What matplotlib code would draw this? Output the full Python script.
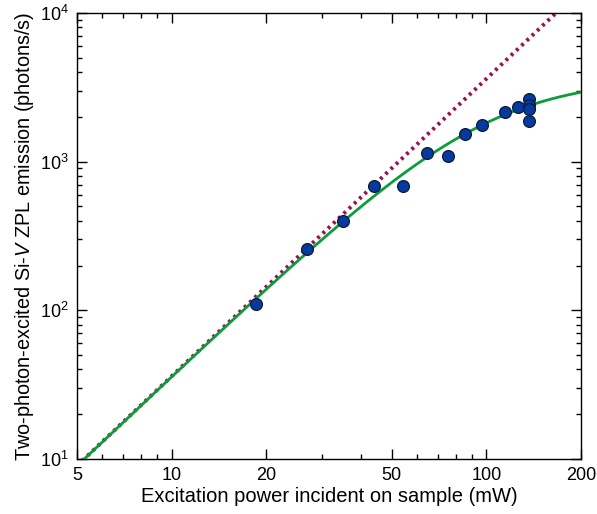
import numpy as np
import matplotlib
matplotlib.use("Agg")
import matplotlib.pyplot as plt
from matplotlib.ticker import FixedLocator, NullFormatter, LogLocator

plt.rcParams['font.family'] = ['Liberation Sans', 'DejaVu Sans']
plt.rcParams['mathtext.fontset'] = 'custom'
plt.rcParams['mathtext.rm'] = 'Liberation Sans'
plt.rcParams['mathtext.it'] = 'Liberation Sans:italic'

# Data (mW, photons/s)
power = [18.5, 26.9, 35.0, 44.0, 54.3, 64.6, 75.4, 85.8, 96.9, 114.7, 125.8,
         136.7, 136.7, 136.7, 136.7]
counts = [110, 259, 399, 687, 681, 1144, 1097, 1543, 1774, 2169, 2344,
          2630, 2405, 2262, 1886]

# Fit parameters: I = A P^2 / (1 + (P/Psat)^2)
A_coef = 0.3607
P_sat = 101.0

x_ticks = [5, 10, 20, 50, 100, 200]
x_ticklabels = ['5', '10', '20', '50', '100', '200']

fig = plt.figure(figsize=(5.97, 5.14), dpi=100)
ax = fig.add_axes([77/597, 1-459/514, (581-77)/597, (459-13)/514])

P = np.logspace(np.log10(5), np.log10(200), 400)
quad = A_coef * P**2
sat = quad / (1 + (P / P_sat)**2)

ax.plot(P, quad, color='#9c1050', lw=2.8, linestyle=(0, (0.75, 1.1)), dash_capstyle='butt', zorder=2)
ax.plot(P, sat, color='#0b9d3a', lw=2.0, zorder=3)
ax.plot(power, counts, 'o', ms=8.5, mfc='#063a9c', mec='#0a1a3a', mew=0.9, zorder=4)

ax.set_xscale('log')
ax.set_yscale('log')
ax.set_xlim(5, 200)
ax.set_ylim(10, 1e4)

ax.xaxis.set_major_locator(FixedLocator(x_ticks))
ax.set_xticklabels(x_ticklabels)
ax.xaxis.set_minor_locator(FixedLocator([6, 7, 8, 9, 30, 40, 60, 70, 80, 90]))
ax.xaxis.set_minor_formatter(NullFormatter())
ax.yaxis.set_major_locator(LogLocator(base=10, numticks=10))
ax.yaxis.set_minor_locator(LogLocator(base=10, subs=np.arange(2, 10), numticks=20))
ax.yaxis.set_minor_formatter(NullFormatter())

ax.tick_params(which='both', direction='in', top=True, right=True, labelsize=13, width=1.0)
ax.tick_params(which='major', length=7, pad=6)
ax.tick_params(which='minor', length=3.5)
for s in ax.spines.values():
    s.set_linewidth(1.0)

ax.set_xlabel('Excitation power incident on sample (mW)', fontsize=14.5, labelpad=2)
ax.set_ylabel('Two-photon-excited Si-$\\mathit{V}$ ZPL emission (photons/s)', fontsize=14.3, labelpad=3)

fig.savefig('out.png', dpi=100)
